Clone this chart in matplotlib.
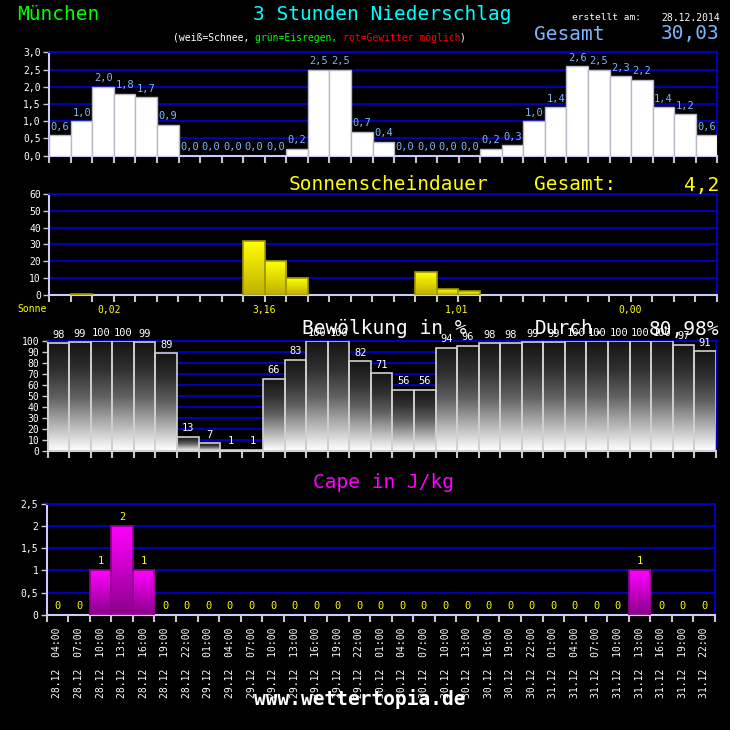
import numpy as np
import matplotlib.pyplot as plt
from matplotlib.colors import LinearSegmentedColormap

plt.rcParams['font.family'] = ['DejaVu Sans Mono', 'DejaVu Sans']

# daten
tage = ['28.12'] * 7 + ['29.12'] * 8 + ['30.12'] * 8 + ['31.12'] * 8
stunden = ['04:00', '07:00', '10:00', '13:00', '16:00', '19:00', '22:00'] + \
          ['01:00', '04:00', '07:00', '10:00', '13:00', '16:00', '19:00', '22:00'] * 3
niederschlag = [0.6, 1.0, 2.0, 1.8, 1.7, 0.9, 0.0, 0.0, 0.0, 0.0, 0.0, 0.2, 2.5, 2.5, 0.7, 0.4,
                0.0, 0.0, 0.0, 0.0, 0.2, 0.3, 1.0, 1.4, 2.6, 2.5, 2.3, 2.2, 1.4, 1.2, 0.6]
sonne = [0, 0.3, 0, 0, 0, 0, 0, 0, 0, 32, 20, 10, 0, 0, 0, 0, 0, 13.5, 3.5, 2,
         0, 0, 0, 0, 0, 0, 0, 0, 0, 0, 0]
sonne_tag = ['0,02', '3,16', '1,01', '0,00']
sonne_tag_x = [2.3, 9.5, 18.4, 26.5]
bewoelkung = [98, 99, 100, 100, 99, 89, 13, 7, 1, 1, 66, 83, 100, 100, 82, 71, 56, 56,
              94, 96, 98, 98, 99, 99, 100, 100, 100, 100, 100, 97, 91]
cape = [0, 0, 1, 2, 1, 0, 0, 0, 0, 0, 0, 0, 0, 0, 0, 0, 0, 0, 0, 0, 0, 0, 0, 0, 0, 0, 0, 1, 0, 0, 0]

n = len(niederschlag)
x = np.arange(n)
W = 730
blau = '#0000cc'
hellblau = '#80b4ff'
achse = '#ccccff'

fig = plt.figure(figsize=(7.3, 7.3), dpi=100, facecolor='black')


def px(xp, yp):
    return xp / W, 1 - yp / W


def panel(l, r, t, b):
    ax = fig.add_axes([l / W, 1 - b / W, (r - l) / W, (b - t) / W])
    ax.set_facecolor('black')
    ax.set_xlim(-0.5, n - 0.5)
    ax.yaxis.grid(True, color=blau, lw=1.3)
    ax.set_axisbelow(True)
    for s in ['left', 'bottom']:
        ax.spines[s].set_color(achse)
        ax.spines[s].set_linewidth(1.5)
    for s in ['right', 'top']:
        ax.spines[s].set_color(blau)
        ax.spines[s].set_linewidth(1.3)
    ax.set_xticks(np.arange(-0.5, n, 1))
    ax.set_xticklabels([])
    ax.tick_params(axis='x', length=5, width=1.5, color='#c8c8c8')
    ax.tick_params(axis='y', length=4, width=1, color='#c8c8c8', labelcolor='white',
                   labelsize=7, pad=2)
    return ax


def verlauf(ax, werte, farben, rand):
    # farben: von unten nach oben
    cmap = LinearSegmentedColormap.from_list('v', farben)
    grad = np.linspace(0, 1, 100).reshape(-1, 1)
    for i, w in enumerate(werte):
        if w <= 0:
            continue
        b = ax.bar(i, w, width=1, facecolor='none', edgecolor=rand, lw=1.2, zorder=3)[0]
        im = ax.imshow(grad, cmap=cmap, extent=[i - 0.5, i + 0.5, 0, w], origin='lower',
                       aspect='auto', zorder=2)
        im.set_clip_path(b)


def komma(v):
    return ('%g' % v).replace('.', ',')


# kopf
fig.text(*px(17, 15), 'München', color='#00ff00', fontsize=14, va='center')
fig.text(*px(253, 15), '3 Stunden Niederschlag', color='#00ffff', fontsize=14, va='center')
fig.text(*px(572, 18), 'erstellt am:', color='white', fontsize=6.8, va='center')
fig.text(*px(720, 18), '28.12.2014', color='white', fontsize=7, va='center', ha='right')
fig.text(*px(534, 34), 'Gesamt', color=hellblau, fontsize=14, va='center')
fig.text(*px(719, 34), '30,03', color=hellblau, fontsize=14, va='center', ha='right')
cw = 0.602 * 7 * 100 / 72
x0 = 173
for teil, farbe in [('(weiß=Schnee, ', 'white'), ('grün=Eisregen, ', '#00ff00'),
                    ('rot=Gewitter möglich', '#ff0000'), (')', 'white')]:
    fig.text(*px(x0, 38), teil, color=farbe, fontsize=7, va='center')
    x0 += len(teil) * cw

# niederschlag
ax1 = panel(49.3, 717.3, 52.3, 155.7)
ax1.bar(x, niederschlag, width=1, color='white', edgecolor='#b8b8c8', lw=1, zorder=3)
ax1.set_ylim(0, 3.0)
ax1.set_yticks(np.arange(0, 3.01, 0.5))
ax1.set_yticklabels([('%.1f' % v).replace('.', ',') for v in np.arange(0, 3.01, 0.5)])
for i, v in enumerate(niederschlag):
    ax1.annotate(('%.1f' % v).replace('.', ','), (i, v), xytext=(0, 2.5),
                 textcoords='offset points', ha='center', va='bottom', color=hellblau,
                 fontsize=7.5, zorder=5)

# sonne
ax2 = panel(49.3, 716.7, 194.3, 294.7)
verlauf(ax2, sonne, ['#c0b000', '#ffff00'], '#a09800')
ax2.set_ylim(0, 60)
ax2.set_yticks(range(0, 61, 10))
fig.text(*px(289, 185), 'Sonnenscheindauer', color='#ffff00', fontsize=14, va='center')
fig.text(*px(534, 185), 'Gesamt:', color='#ffff00', fontsize=14, va='center')
fig.text(*px(719, 185), '4,2', color='#ffff00', fontsize=14, va='center', ha='right')
fig.text(*px(17, 309), 'Sonne', color='#ffff00', fontsize=7, va='center')
for t, xp in zip(sonne_tag, sonne_tag_x):
    ax2.text(xp, -9, t, color='#ffff00', fontsize=7, ha='center', va='center')

# bewoelkung
ax3 = panel(47.7, 715.7, 341.3, 451.0)
verlauf(ax3, bewoelkung, ['#ffffff', '#b0b0b0', '#606060', '#303030', '#151515'], '#d0d0d0')
ax3.set_ylim(0, 100)
ax3.set_yticks(range(0, 101, 10))
for i, v in enumerate(bewoelkung):
    ax3.annotate(str(v), (i, v), xytext=(0, 2.5), textcoords='offset points',
                 ha='center', va='bottom', color='white', fontsize=7.5, zorder=5,
                 annotation_clip=False)
fig.text(*px(302, 329), 'Bewölkung in %', color='white', fontsize=14, va='center', zorder=10)
fig.text(*px(535, 329), 'Durch.', color='white', fontsize=14, va='center', zorder=10)
fig.text(*px(719, 329), '80,98%', color='white', fontsize=14, va='center', ha='right',
         zorder=10)

# cape
ax4 = panel(46.7, 715.0, 503.7, 615.0)
verlauf(ax4, cape, ['#8a008a', '#ff00ff'], '#900090')
ax4.set_ylim(0, 2.5)
ax4.set_yticks(np.arange(0, 2.51, 0.5))
ax4.set_yticklabels([komma(v) for v in np.arange(0, 2.51, 0.5)])
for i, v in enumerate(cape):
    ax4.annotate(str(v), (i, v), xytext=(0, 3), textcoords='offset points',
                 ha='center', va='bottom', color='#ffff00', fontsize=7.5, zorder=5)
fig.text(*px(313, 482), 'Cape in J/kg', color='#ff00ff', fontsize=14, va='center')
ax4.set_xticks(x, minor=True)
ax4.set_xticklabels([t + '  ' + s for t, s in zip(tage, stunden)], minor=True,
                    rotation=90, fontsize=7, color='white')
ax4.tick_params(axis='x', which='minor', length=0, pad=9)

fig.text(*px(360, 699), 'www.wettertopia.de', color='white', fontsize=14,
         fontweight='bold', ha='center', va='center', zorder=10)

fig.savefig('out.png', dpi=100, facecolor='black')
